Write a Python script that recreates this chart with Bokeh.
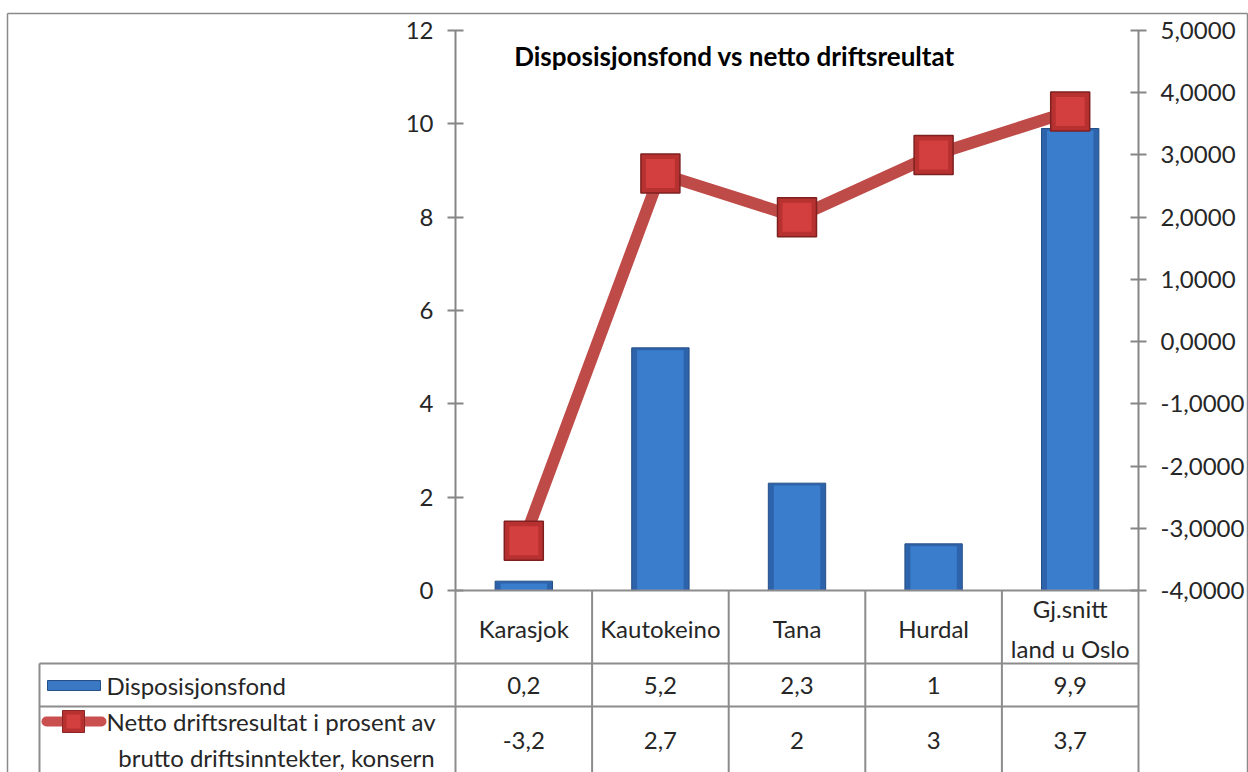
from bokeh.plotting import figure
from bokeh.models import Range1d, LinearAxis, FixedTicker
from bokeh.core.properties import value
from bokeh.embed import file_html
from bokeh.resources import INLINE

# ---------------- data ----------------
title_text = "Disposisjonsfond vs netto driftsreultat"
categories = ["Karasjok", "Kautokeino", "Tana", "Hurdal", "Gj.snitt\nland u Oslo"]
disposisjonsfond = [0.2, 5.2, 2.3, 1, 9.9]
netto_driftsresultat = [-3.2, 2.7, 2, 3, 3.7]
series_names = ["Disposisjonsfond",
                "Netto driftsresultat i prosent av\nbrutto driftsinntekter, konsern"]
left_ticks = [0, 2, 4, 6, 8, 10, 12]
right_ticks = [-4, -3, -2, -1, 0, 1, 2, 3, 4, 5]
right_tick_labels = ["-4,0000", "-3,0000", "-2,0000", "-1,0000", "0,0000",
                     "1,0000", "2,0000", "3,0000", "4,0000", "5,0000"]

# ---------------- layout (picture pixels) ----------------
W, H = 1248, 772
PL, PR, PT, PB = 455, 1138, 30, 590
N = len(categories)
LMAX = 12

def xd(px):
    return (px - PL) / (PR - PL) * N

def yd(py):
    return (PB - py) / (PB - PT) * LMAX

FONT = value("Lato")
FS = "24px"
TXT = "#262626"
GRID = "#8c8c8c"
AX = "#868686"

p = figure(width=W, height=H, x_range=Range1d(0, N), y_range=Range1d(0, LMAX),
           output_backend="svg", toolbar_location=None,
           x_axis_location=None, y_axis_location=None,
           min_border_left=PL, min_border_right=W - PR,
           min_border_top=PT, min_border_bottom=H - PB)
p.grid.visible = False
p.outline_line_color = None
p.background_fill_color = "white"
p.border_fill_color = "white"

p.extra_y_ranges = {"right": Range1d(right_ticks[0], right_ticks[-1])}

axis_style = dict(axis_line_color=AX, axis_line_width=2,
                  major_tick_line_color=AX, major_tick_line_width=2,
                  major_tick_in=8, major_tick_out=8,
                  minor_tick_line_color=None,
                  major_label_text_font="Lato", major_label_text_font_size=FS,
                  major_label_text_color=TXT, major_label_standoff=14)

ax_l = LinearAxis(ticker=FixedTicker(ticks=left_ticks), **axis_style)
p.add_layout(ax_l, "left")
ax_r = LinearAxis(y_range_name="right", ticker=FixedTicker(ticks=right_ticks),
                  major_label_overrides={t: l for t, l in zip(right_ticks, right_tick_labels)},
                  **axis_style)
p.add_layout(ax_r, "right")

xs = [i + 0.5 for i in range(N)]

# bars
p.vbar(x=xs, top=disposisjonsfond, bottom=0, width=0.42,
       fill_color="#2d63aa", line_color="#264f86", line_width=1)
p.vbar(x=xs, top=[v - 0.05 if v > 0.1 else v for v in disposisjonsfond], bottom=0, width=0.34,
       fill_color="#3b7dcd", line_color=None)

# line + markers
p.line(xs, netto_driftsresultat, y_range_name="right", line_color="#be4b48", line_width=12)
p.scatter(xs, netto_driftsresultat, y_range_name="right", marker="square", size=39,
          fill_color="#b83131", line_color="#7e2020", line_width=1.5)
p.scatter(xs, netto_driftsresultat, y_range_name="right", marker="square", size=29,
          fill_color="#d33e3e", line_color=None)

# title
p.text(x=[xd(734)], y=[yd(55)], text=[title_text], text_font=FONT, text_font_style="bold",
       text_font_size="26px", text_color="black", text_align="center", text_baseline="middle")

# ---------------- data table ----------------
ov = dict(level="overlay")
bottom = 780
row1, row2 = 663, 706
vx = [PL + (PR - PL) * i / N for i in range(N + 1)]

# outer chart border
p.segment(x0=[xd(7), xd(7), xd(1247)], y0=[yd(13), yd(13), yd(13)],
          x1=[xd(1247), xd(7), xd(1247)], y1=[yd(13), yd(bottom), yd(bottom)],
          line_color="#8a8a8a", line_width=1.5, **ov)

# table grid
seg_x0 = [xd(PL), xd(39), xd(39), xd(39)]
seg_y0 = [yd(PB), yd(row1), yd(row2), yd(row1)]
seg_x1 = [xd(PR), xd(PR), xd(PR), xd(39)]
seg_y1 = [yd(PB), yd(row1), yd(row2), yd(bottom)]
for v in vx:
    seg_x0.append(xd(v)); seg_y0.append(yd(PB)); seg_x1.append(xd(v)); seg_y1.append(yd(bottom))
p.segment(x0=seg_x0, y0=seg_y0, x1=seg_x1, y1=seg_y1, line_color=GRID, line_width=2, **ov)

# category header
p.text(x=xs, y=[yd(628)] * N, text=categories, text_font=FONT, text_font_size=FS,
       text_color=TXT, text_align="center", text_baseline="middle", text_line_height=1.38, **ov)

def fmt(v):
    return f"{v:g}".replace(".", ",")

p.text(x=xs, y=[yd(685)] * N, text=[fmt(v) for v in disposisjonsfond], text_font=FONT,
       text_font_size=FS, text_color=TXT, text_align="center", text_baseline="middle", **ov)
p.text(x=xs, y=[yd(740)] * N, text=[fmt(v) for v in netto_driftsresultat], text_font=FONT,
       text_font_size=FS, text_color=TXT, text_align="center", text_baseline="middle", **ov)

# legend keys
p.quad(left=[xd(47)], right=[xd(100)], top=[yd(680)], bottom=[yd(690)],
       fill_color="#3a78c4", line_color="#264f86", line_width=1, **ov)
p.text(x=[xd(106)], y=[yd(685)], text=[series_names[0]], text_font=FONT, text_font_size=FS,
       text_color=TXT, text_align="left", text_baseline="middle", **ov)

p.segment(x0=[xd(46)], y0=[yd(721)], x1=[xd(101)], y1=[yd(721)], line_color="#c9504f",
          line_width=10, line_cap="round", **ov)
p.quad(left=[xd(62)], right=[xd(84)], top=[yd(710)], bottom=[yd(732)],
       fill_color="#b83131", line_color="#8a2525", line_width=1, **ov)
p.quad(left=[xd(66)], right=[xd(80)], top=[yd(714)], bottom=[yd(728)],
       fill_color="#d33e3e", line_color=None, **ov)
l1, l2 = series_names[1].split("\n")
p.text(x=[xd(106)], y=[yd(721)], text=[l1], text_font=FONT, text_font_size=FS,
       text_color=TXT, text_align="left", text_baseline="middle", **ov)
p.text(x=[xd(276)], y=[yd(757)], text=[l2], text_font=FONT, text_font_size=FS,
       text_color=TXT, text_align="center", text_baseline="middle", **ov)

open("out.html", "w").write(file_html(p, INLINE))
